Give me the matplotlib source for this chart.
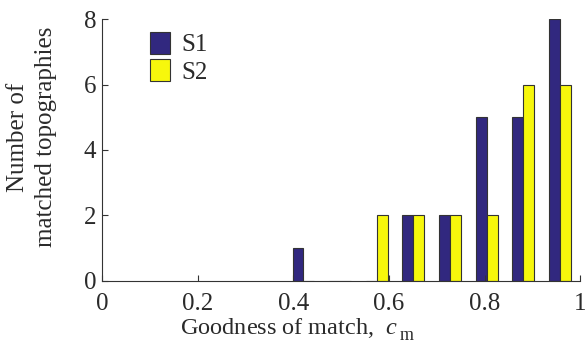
import matplotlib
matplotlib.use("Agg")
import matplotlib.pyplot as plt
import numpy as np

# Histogram bin centres and counts per subject
bin_centers = [0.421, 0.498, 0.575, 0.651, 0.728, 0.805, 0.881, 0.958]
s1_counts = [1, 0, 0, 2, 2, 5, 5, 8]
s2_counts = [0, 0, 2, 2, 2, 2, 6, 6]
series_labels = ["S1", "S2"]

x_ticks = [0, 0.2, 0.4, 0.6, 0.8, 1]
x_tick_labels = ["0", "0.2", "0.4", "0.6", "0.8", "1"]
y_ticks = [0, 2, 4, 6, 8]

S1_COLOR = "#31287f"
S2_COLOR = "#f7f70c"
TEXT_COLOR = "#2a2a2a"

plt.rcParams["font.family"] = ["Liberation Serif", "DejaVu Serif"]
plt.rcParams["mathtext.fontset"] = "custom"
plt.rcParams["mathtext.it"] = "Liberation Serif:italic"
plt.rcParams["mathtext.rm"] = "Liberation Serif"

fig = plt.figure(figsize=(5.86, 3.46), dpi=100)
ax = fig.add_axes([0.174, 0.188, 0.816, 0.757])

centers = np.array(bin_centers)
bar_w = 0.0225
s1 = np.array(s1_counts)
s2 = np.array(s2_counts)

ax.bar(centers - bar_w / 2, s1, width=bar_w, color=S1_COLOR,
       edgecolor="#333333", linewidth=0.8, label=series_labels[0])
ax.bar(centers + bar_w / 2, s2, width=bar_w, color=S2_COLOR,
       edgecolor="#333333", linewidth=0.8, label=series_labels[1])

ax.set_xlim(0, 1)
ax.set_ylim(0, 8)
ax.set_xticks(x_ticks)
ax.set_xticklabels(x_tick_labels)
ax.set_yticks(y_ticks)
ax.tick_params(direction="in", length=4, width=0.8, colors="#333333",
               labelsize=18, labelcolor=TEXT_COLOR)
ax.tick_params(axis="x", pad=9)
ax.tick_params(axis="y", pad=4)

for side in ("top", "right"):
    ax.spines[side].set_visible(False)
for side in ("left", "bottom"):
    ax.spines[side].set_color("#333333")
    ax.spines[side].set_linewidth(0.8)

# x label with a low-hanging subscript on c
ax.set_xlabel(r"Goodness of match,  $c$", fontsize=17.5, color=TEXT_COLOR)
ax.xaxis.set_label_coords(0.392, -0.135, transform=ax.transAxes)
ax.xaxis.label.set_va("top")
ax.annotate("m", xy=(1, 1), xycoords=ax.xaxis.label, xytext=(1, -17),
            textcoords="offset points", ha="left", va="baseline",
            fontsize=13, color=TEXT_COLOR)

ax.set_ylabel("Number of\nmatched topographies", fontsize=18,
              color=TEXT_COLOR, linespacing=1.35)
ax.yaxis.set_label_coords(-0.094, 0.55, transform=ax.transAxes)

leg = ax.legend(loc="upper left", bbox_to_anchor=(0.08, 0.99), frameon=False,
                fontsize=18, handlelength=0.8, handleheight=1.0,
                handletextpad=0.45, labelspacing=0.1, borderaxespad=0)
for t in leg.get_texts():
    t.set_color(TEXT_COLOR)

fig.savefig("out.png", dpi=100)
